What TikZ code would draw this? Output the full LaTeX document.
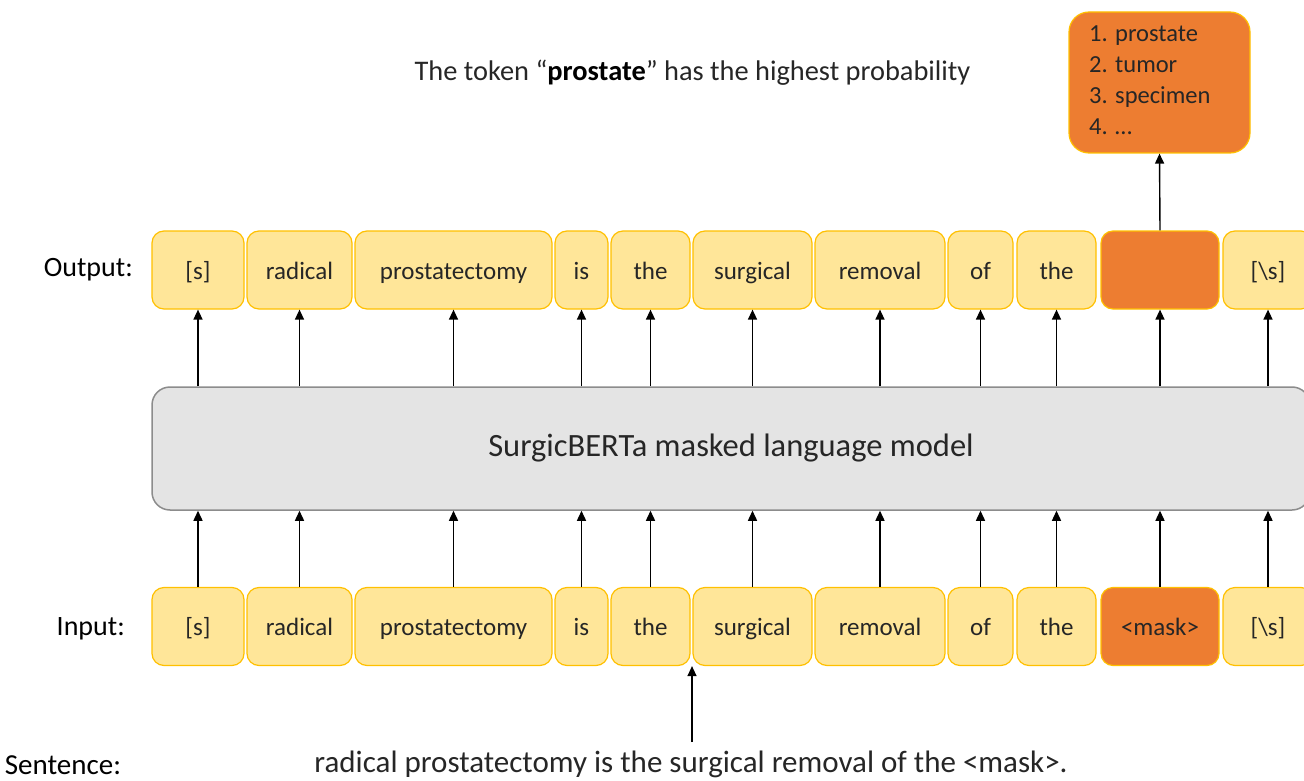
\documentclass[tikz,border=0pt]{standalone}
\usepackage{fontspec}
\setmainfont{Carlito}
\usetikzlibrary{arrows.meta}
\definecolor{tokfill}{HTML}{FFE699}
\definecolor{tokdraw}{HTML}{FFC000}
\definecolor{orng}{HTML}{ED7D31}
\definecolor{modfill}{HTML}{E4E4E4}
\definecolor{moddraw}{HTML}{8C8C8C}
\definecolor{txt}{HTML}{262626}
\tikzset{
  tok/.style={draw=tokdraw, fill=tokfill, line width=1.2pt, rounded corners=12pt,
    minimum height=78pt, inner sep=0pt, text=txt, font=\fontsize{25}{30}\selectfont,
    text height=20pt, text depth=2pt},
  masktok/.style={tok, fill=orng},
  model/.style={draw=moddraw, fill=modfill, line width=1.5pt, rounded corners=18pt,
    minimum height=123pt, minimum width=1158pt, inner sep=0pt, text=txt,
    font=\fontsize{32.5}{36}\selectfont},
  lbl/.style={text=black, font=\fontsize{28}{32}\selectfont, inner sep=0pt},
  arr/.style={line width=1.4pt, -{Triangle[width=9pt,length=10pt]}},
}
\begin{document}
\begin{tikzpicture}[x=1pt,y=-1pt]
\useasboundingbox (0,0) rectangle (1304,781);
\clip (0,0) rectangle (1304,781);
% model
\node[model] (m) at (731,448.5) {SurgicBERTa masked language model};
% output row
\node[tok, minimum width=92] (o1) at (198,270) {[s]};
\node[tok, minimum width=105] (o2) at (299.5,270) {radical};
\node[tok, minimum width=197] (o3) at (453.5,270) {prostatectomy};
\node[tok, minimum width=53] (o4) at (581.5,270) {is};
\node[tok, minimum width=79] (o5) at (650.5,270) {the};
\node[tok, minimum width=119] (o6) at (752.5,270) {surgical};
\node[tok, minimum width=130] (o7) at (880,270) {removal};
\node[tok, minimum width=65] (o8) at (980.5,270) {of};
\node[tok, minimum width=79] (o9) at (1056.5,270) {the};
\node[masktok, minimum width=118] (o10) at (1160,270) {};
\node[tok, minimum width=90] (o11) at (1268,270) {[\textbackslash s]};
% input row
\node[tok, minimum width=92] (i1) at (198,626.5) {[s]};
\node[tok, minimum width=105] (i2) at (299.5,626.5) {radical};
\node[tok, minimum width=197] (i3) at (453.5,626.5) {prostatectomy};
\node[tok, minimum width=53] (i4) at (581.5,626.5) {is};
\node[tok, minimum width=79] (i5) at (650.5,626.5) {the};
\node[tok, minimum width=119] (i6) at (752.5,626.5) {surgical};
\node[tok, minimum width=130] (i7) at (880,626.5) {removal};
\node[tok, minimum width=65] (i8) at (980.5,626.5) {of};
\node[tok, minimum width=79] (i9) at (1056.5,626.5) {the};
\node[masktok, minimum width=118] (i10) at (1160,626.5) {<mask>};
\node[tok, minimum width=90] (i11) at (1268,626.5) {[\textbackslash s]};
% top result box
\node[draw=tokdraw, fill=orng, line width=1.2pt, rounded corners=20pt,
  minimum width=181pt, minimum height=141pt, inner sep=0pt, text=txt] (res) at (1159.5,82.5) {};
\node[anchor=north west, inner sep=0pt, text=txt, font=\fontsize{24.5}{31}\selectfont,
  align=left] (reslist) at (1089,26) {1. prostate\\2. tumor\\3. specimen\\4. \dots};
% labels
\node[lbl, anchor=east] (lo) at (133,270) {Output:};
\node[lbl, anchor=east] (li) at (125,629) {Input:};
\node[lbl, anchor=base, font=\fontsize{29}{33}\selectfont, text depth=0pt] (ls) at (63,774) {Sentence:};
\node[inner sep=0pt, text=txt, anchor=base, font=\fontsize{31}{35}\selectfont] (sent) at (691,772.5)
  {radical prostatectomy is the surgical removal of the <mask>.};
\node[inner sep=0pt, text=txt, font=\fontsize{28.4}{32}\selectfont] (title) at (692.5,73)
  {The token “\textbf{\color{black}prostate}” has the highest probability};
% arrows
\foreach \i in {1,...,11}{
  \draw[arr] (i\i.north) -- (i\i.north |- m.south);
  \draw[arr] (o\i.south |- m.north) -- (o\i.south);
}
\draw[arr] (o10.north) -- (res.south);
\coordinate (sa) at (692,742);
\draw[arr] (sa) -- (sa |- i6.south);
\end{tikzpicture}
\end{document}
